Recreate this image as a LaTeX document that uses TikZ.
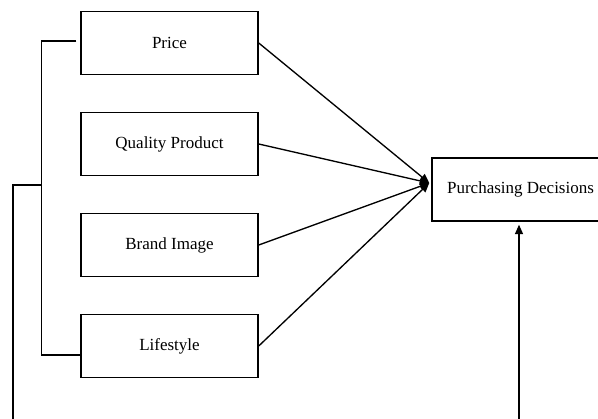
\documentclass[tikz,border=0pt]{standalone}
\usepackage{fontspec}
\setmainfont{Liberation Serif}
\usetikzlibrary{arrows.meta,calc,positioning}
\tikzset{
  block/.style={draw, line width=1.1pt, minimum width=132.75pt, minimum height=47.25pt,
    inner sep=0pt, font=\fontsize{12.75}{15}\selectfont},
  wire/.style={line width=1pt},
  conn/.style={wire, -{Triangle[length=7pt,width=6pt]}},
}
\begin{document}
\begin{tikzpicture}[x=0.75pt, y=0.75pt] % {{{
\useasboundingbox (0,0) rectangle (598,418);
\pgfmathsetmacro{\rowstep}{101}
% Variables {{{
\foreach \name/\txt [count=\i from 0] in {price/Price, quality/Quality Product, brand/Brand Image, life/Lifestyle} {
  \node[block] (\name) at (169.5, 375-\i*\rowstep) {\txt};
}
% }}}
\node[block] (dec) at (520.5,228.5) {Purchasing Decisions};
\coordinate (hub) at ($(dec.west)+(-2,6.5)$);
\foreach \name in {price,quality,brand,life} {
  \draw[conn] (\name.east) -- (hub);
}
% Bracket {{{
\coordinate (brtop) at ($(price.west)+(-4,2)$);
\coordinate (brbot) at ($(life.west)+(0,-9)$);
\draw[wire] (brtop) -- ++(-35,0) |- (brbot);
\coordinate (brmid) at (42,233);
\draw[wire] (brmid) -- ++(-29,0) -- ++(0,-240);
\coordinate (foot) at (519,-5);
\coordinate (decin) at ($(dec.south)+(-1.5,-3)$);
\draw[conn] (foot) -- (decin);
% }}}
\end{tikzpicture} % }}}
\end{document}
